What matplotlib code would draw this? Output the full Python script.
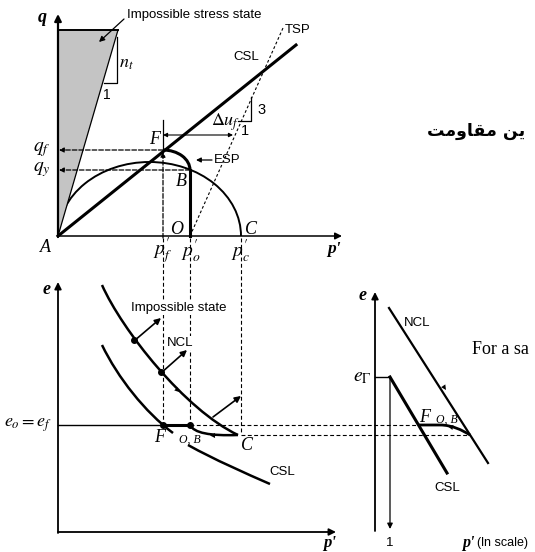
import matplotlib
matplotlib.use("Agg")
import matplotlib.pyplot as plt
from matplotlib.patches import Arc, Polygon, PathPatch
from matplotlib.path import Path

# ---- q - p' plane ----
grey_x = [58, 58, 118]
grey_y = [236, 30, 30]
csl_qp_x = [58, 296]
csl_qp_y = [236, 45]
tsp_x = [190, 283]
tsp_y = [236, 28]
p_f, p_o, p_c = 163, 190, 241
q_f, q_y = 150, 170
yield_half_height = 74

# ---- e - p' plane (cubic bezier control points) ----
ncl_ctrl = [(102, 285), (122, 330), (185, 410), (238, 435)]
csl_a_ctrl = [(102, 345), (118, 378), (145, 412), (173, 433)]
csl_b_ctrl = [(188, 445), (215, 460), (245, 473), (270, 484)]
undrained_ctrl = [(238, 435), (210, 436), (194, 433), (190, 425)]
ncl_dots = [(134, 340), (161, 372)]
e_o, e_c = 425, 435

# ---- e - ln p' plane ----
e_gamma = 377
ncl_ln_x = [389, 488]
ncl_ln_y = [308, 463]
csl_ln_x = [390, 447]
csl_ln_y = [377, 473]
path_ln_ctrl = [(418, 425), (440, 425), (440, 425), (440, 425),
                (452, 425), (462, 430), (470, 435)]

plt.rcParams['mathtext.fontset'] = 'stix'
plt.rcParams['font.family'] = ['Liberation Sans', 'DejaVu Sans']

fig = plt.figure(figsize=(5.35, 5.52), dpi=100)
ax = fig.add_axes([0, 0, 1, 1])
ax.set_xlim(0, 535)
ax.set_ylim(552, 0)
ax.axis('off')

K = 'black'
DASH = (0, (3.5, 2.2))


def arrow(x0, y0, x1, y1, lw=1.0, ms=9, style='-|>', z=5, ls='-'):
    ax.annotate('', xy=(x1, y1), xytext=(x0, y0),
                arrowprops=dict(arrowstyle=style, lw=lw, color=K, ls=ls,
                                mutation_scale=ms, shrinkA=0, shrinkB=0),
                zorder=z)


def head(x0, y0, x1, y1, ms=9):
    # bare arrow head sitting on a drawn line
    ax.annotate('', xy=(x1, y1), xytext=(x0, y0),
                arrowprops=dict(arrowstyle='-|>', lw=0.01, color=K,
                                mutation_scale=ms, shrinkA=0, shrinkB=0),
                zorder=6)


def bezier(pts, lw, z=4):
    codes = [Path.MOVETO] + [Path.CURVE4] * (len(pts) - 1)
    ax.add_patch(PathPatch(Path(pts, codes), fill=False, edgecolor=K,
                           lw=lw, zorder=z, capstyle='butt'))


def serif(x, y, s, size=12, **kw):
    kw.setdefault('ha', 'center')
    kw.setdefault('va', 'center')
    ax.text(x, y, s, fontsize=size, family='Liberation Serif',
            style='italic', **kw)


def sans(x, y, s, size=9.5, **kw):
    kw.setdefault('ha', 'center')
    kw.setdefault('va', 'center')
    ax.text(x, y, s, fontsize=size, family='Liberation Sans', **kw)


# ================= q - p' =================
x0, y0 = grey_x[0], grey_y[0]
arrow(x0, y0 + 1, x0, 14, lw=1.6, ms=10)
arrow(x0, y0, 342, y0, lw=1.1, ms=10)

ax.add_patch(Polygon(list(zip(grey_x, grey_y)), closed=True,
                     facecolor='#c4c4c4', edgecolor='none', zorder=2))
ax.plot(grey_x[1:], grey_y[1:], color=K, lw=1.4, zorder=3)
ax.plot([grey_x[0], grey_x[2]], [grey_y[0], grey_y[2]], color=K, lw=0.9, zorder=3)

# slope n_t
ax.plot([104, 117, 117], [83, 83, 37], color=K, lw=0.9)
serif(126, 63, r'$n_t$', size=13)
sans(107, 95, '1', size=10)
sans(127, 15, 'Impossible stress state', ha='left')
arrow(124, 19, 99, 42, lw=0.9, ms=8)

# yield surface
ax.add_patch(Arc(((p_c + x0) / 2, y0), p_c - x0, 2 * yield_half_height,
                 theta1=180, theta2=360, color=K, lw=1.4, zorder=1))

# CSL and TSP
ax.plot(csl_qp_x, csl_qp_y, color=K, lw=2.2, zorder=4)
sans(246, 57, 'CSL')
ax.plot(tsp_x, tsp_y, color=K, lw=0.8, ls=(0, (2.5, 2.0)))
sans(285, 30, 'TSP', ha='left')
ax.plot([238, 251, 251], [121, 121, 97], color=K, lw=0.9)
sans(262, 110, '3', size=10.5)
sans(245, 131, '1', size=10.5)

# effective stress path O -> B -> F
ax.plot([p_o, p_o], [y0, q_y], color=K, lw=2.2, zorder=4)
ax.add_patch(Arc((p_f, q_y), 2 * (p_o - p_f), 2 * (q_y - q_f),
                 theta1=270, theta2=360, color=K, lw=2.2, zorder=4))
sans(214, 160, 'ESP', ha='left')
arrow(212, 160, 196, 160, lw=0.9, ms=7)

# Delta u_f
ax.plot([p_f, p_f], [120, q_f], color=K, lw=0.9)
arrow(p_f, 135, 233, 135, lw=0.8, ms=6, style='<|-|>')
serif(226, 122, r'$\Delta u_f$', size=13)

# projections onto the axes
arrow(p_f, q_f, x0 + 1, q_f, lw=0.9, ms=7, ls='--')
arrow(p_o, q_y, x0 + 1, q_y, lw=0.9, ms=7, ls='--')
arrow(p_f, 238, p_f, q_f + 2, lw=0.9, ms=7, ls='--')

serif(155, 139, 'F', size=13)
serif(181, 182, 'B', size=13)
serif(177, 229, 'O', size=13)
serif(251, 229, 'C', size=13)
serif(45, 247, 'A', size=13)
serif(42, 17, 'q', size=13, weight='bold')
serif(42, 150, r'$q_f$', size=14)
serif(42, 170, r'$q_y$', size=14)
serif(p_f, 251, r"$p^{\prime}_{f}$", size=14)
serif(p_o + 1, 251, r"$p^{\prime}_{o}$", size=14)
serif(p_c, 251, r"$p^{\prime}_{c}$", size=14)
serif(334, 249, "p'", size=12.5, weight='bold')

# ================= e - p' =================
ex0, ey0 = 58, 532
arrow(ex0, ey0 + 1, ex0, 282, lw=1.3, ms=10)
arrow(ex0, ey0, 336, ey0, lw=1.3, ms=10)
serif(47, 289, 'e', size=13, weight='bold')
serif(330, 543, "p'", size=12, weight='bold')

# vertical projections
ax.plot([p_f, p_f], [238, e_o], color=K, lw=0.8, ls=DASH)
ax.plot([p_o, p_o], [238, e_o], color=K, lw=0.8, ls=DASH)
ax.plot([p_c, p_c], [238, e_c - 2], color=K, lw=0.8, ls=DASH)

# NCL and CSL curves
bezier(ncl_ctrl, 1.8)
bezier(csl_a_ctrl, 1.8)
bezier(csl_b_ctrl, 1.8)
head(171, 384, 179, 392, ms=8)
sans(282, 472, 'CSL')

# normals to NCL
for (a, b), (c, d) in [((134, 341), (161, 318)), ((161, 373), (187, 350)),
                       ((213, 417), (241, 396))]:
    arrow(a, b, c, d, lw=1.2, ms=9)
for px, py in ncl_dots + [(p_f, e_o), (p_o, e_o)]:
    ax.plot(px, py, 'o', color=K, ms=4, zorder=6)
sans(179, 308, 'Impossible state',
     bbox=dict(facecolor='white', edgecolor='none', pad=0.5), zorder=5)
sans(180, 343, 'NCL', bbox=dict(facecolor='white', edgecolor='none', pad=0.5),
     zorder=5)

# void ratio lines
ax.plot([ex0, p_f], [e_o, e_o], color=K, lw=1.0)
ax.plot([p_f, p_o], [e_o, e_o], color=K, lw=2.2, zorder=5)
ax.plot([p_o, 418], [e_o, e_o], color=K, lw=0.8, ls=DASH)
ax.plot([p_c, 470], [e_c, e_c], color=K, lw=0.8, ls=DASH)
bezier(undrained_ctrl, 1.8, z=5)
head(222, 435.5, 210, 435.5, ms=9)

serif(28, 425, r'$e_o = e_f$', size=13)
serif(160, 438, 'F', size=13)
serif(190, 440, 'O, B', size=8.5)
serif(247, 446, 'C', size=13)

# ================= e - ln p' =================
rx0, ry0 = 375, 530
arrow(rx0, ry0 + 1, rx0, 292, lw=1.3, ms=10)
arrow(rx0, ry0, 540, ry0, lw=1.3, ms=10)
serif(363, 296, 'e', size=13, weight='bold')
serif(362, 377, r'$e_\Gamma$', size=14)
ax.plot([rx0, 390], [e_gamma, e_gamma], color=K, lw=1.0)
arrow(390, e_gamma, 390, ry0 - 1, lw=0.9, ms=8)
sans(390, 543, '1', size=9.5)
serif(462, 543, "p'", size=11.5, weight='bold', ha='left')
sans(477, 543, '(ln scale)', size=9, ha='left')

ax.plot(csl_ln_x, csl_ln_y, color=K, lw=2.2)
sans(447, 488, 'CSL')
ax.plot(ncl_ln_x, ncl_ln_y, color=K, lw=1.6)
head(438, 378, 446, 390, ms=9)
sans(417, 323, 'NCL')
bezier(path_ln_ctrl, 2.0, z=5)
head(458, 428.5, 448, 426.5, ms=9)
serif(425, 417, 'F', size=13)
serif(447, 420, 'O, B', size=8.5)

# slide text around the figure
ax.text(472, 350, 'For a sa', fontsize=13, family='Liberation Serif',
        ha='left', va='center')
ax.text(427, 131, '\ufe96\ufee3\ufeed\ufe8e\ufed8\ufee3 \ufee6\ufbfe',
        fontsize=12.5, family='DejaVu Sans', weight='bold',
        ha='left', va='center')

fig.savefig('out.png', dpi=100)
